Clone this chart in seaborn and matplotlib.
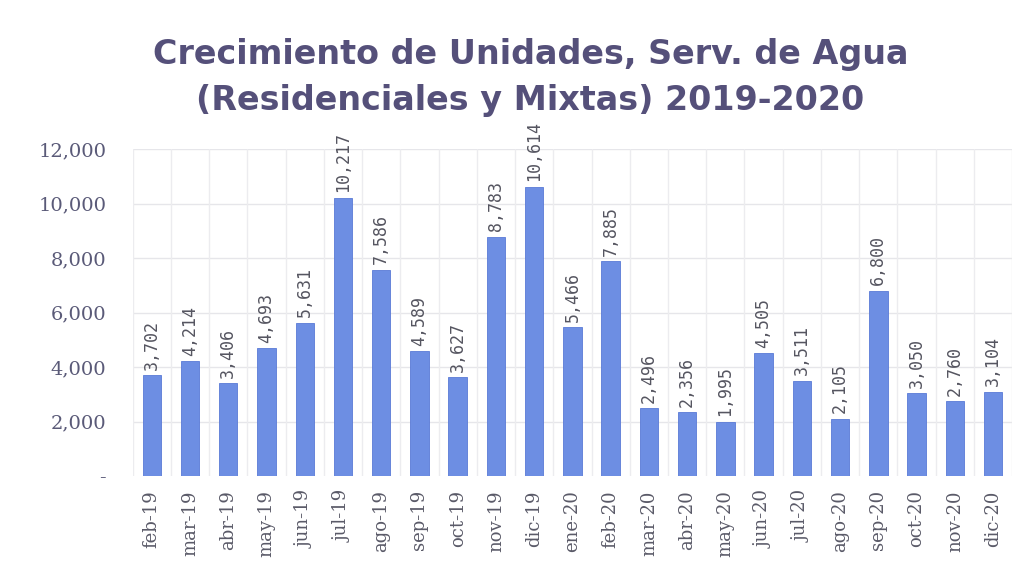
import matplotlib
matplotlib.use("Agg")
import matplotlib.pyplot as plt
import seaborn as sns
import pandas as pd
from matplotlib.ticker import FuncFormatter, MultipleLocator

months = ["feb-19", "mar-19", "abr-19", "may-19", "jun-19", "jul-19", "ago-19",
          "sep-19", "oct-19", "nov-19", "dic-19", "ene-20", "feb-20", "mar-20",
          "abr-20", "may-20", "jun-20", "jul-20", "ago-20", "sep-20", "oct-20",
          "nov-20", "dic-20"]
units = [3702, 4214, 3406, 4693, 5631, 10217, 7586, 4589, 3627, 8783, 10614,
         5466, 7885, 2496, 2356, 1995, 4505, 3511, 2105, 6800, 3050, 2760, 3104]

df = pd.DataFrame({"mes": months, "unidades": units})

sns.set_style("white")
plt.rcParams["font.family"] = ["Lato", "DejaVu Sans"]

fig = plt.figure(figsize=(10.36, 5.63), dpi=100)
ax = fig.add_axes([0.128, 0.154, 0.849, 0.581])

sns.barplot(data=df, x="mes", y="unidades", color="#6d8ee3", width=0.48,
            saturation=1, edgecolor="#5a7ad6", linewidth=0.6, ax=ax)

ax.bar_label(ax.containers[0], labels=[f"{v:,}" for v in units], rotation=90,
             padding=4, fontsize=12, color="#555560",
             family=["DejaVu Sans Mono", "DejaVu Sans"])

ax.set_ylim(0, 12000)
ax.set_xlim(-0.5, len(months) - 0.5)
ax.yaxis.set_major_locator(MultipleLocator(2000))
ax.yaxis.set_major_formatter(FuncFormatter(lambda v, p: "-" if v == 0 else f"{int(v):,}"))

# grid: horizontal at ticks, vertical between categories
for y in range(2000, 12001, 2000):
    ax.axhline(y, color="#e6e6ea", lw=1, zorder=0)
for i in range(len(months) + 1):
    ax.axvline(i - 0.5, color="#ececef", lw=1, zorder=0)

for s in ax.spines.values():
    s.set_visible(False)

ax.set_xlabel("")
ax.set_ylabel("")
ax.tick_params(axis="x", rotation=90, labelsize=13, colors="#5a5a68", length=0, pad=10)
ax.tick_params(axis="y", labelsize=14, colors="#5a5a78", length=0, pad=19)
for t in ax.get_yticklabels() + ax.get_xticklabels():
    t.set_family(["DejaVu Serif", "DejaVu Sans"])

title_kw = dict(ha="center", va="center", fontsize=24, fontweight="bold",
                color="#55507a", family=["DejaVu Sans"])
fig.text(0.512, 0.904, "Crecimiento de Unidades, Serv. de Agua", **title_kw)
fig.text(0.512, 0.822, "(Residenciales y Mixtas) 2019-2020", **title_kw)

fig.savefig("out.png", dpi=100)
